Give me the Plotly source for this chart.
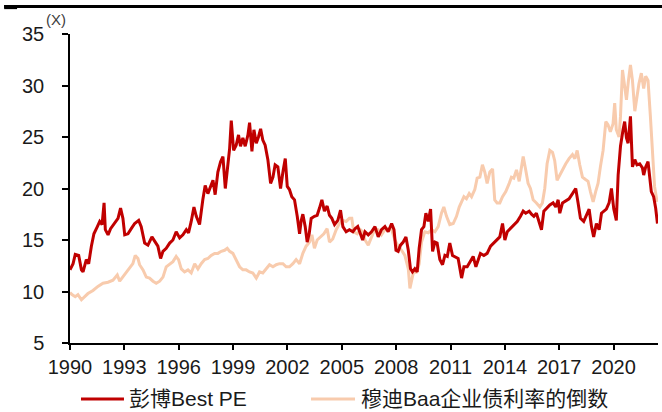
import plotly.graph_objects as go

# Bloomberg Best PE (forward P/E), decimal years
pe_years = [
    1990.00, 1990.17, 1990.29, 1990.48, 1990.63, 1990.72, 1990.90, 1991.03, 1991.18, 1991.32,
    1991.51, 1991.64, 1991.77, 1991.88, 1991.95, 1992.10, 1992.24, 1992.46, 1992.65, 1992.79,
    1992.92, 1993.02, 1993.20, 1993.38, 1993.57, 1993.79, 1993.93, 1994.12, 1994.30, 1994.52,
    1994.71, 1994.85, 1995.00, 1995.13, 1995.31, 1995.50, 1995.68, 1995.86, 1996.05, 1996.23,
    1996.42, 1996.54, 1996.69, 1996.84, 1996.97, 1997.15, 1997.33, 1997.46, 1997.61, 1997.76,
    1997.89, 1998.01, 1998.16, 1998.31, 1998.44, 1998.57, 1998.68, 1998.81, 1998.90, 1999.03,
    1999.17, 1999.30, 1999.41, 1999.54, 1999.67, 1999.82, 1999.91, 2000.04, 2000.15, 2000.28,
    2000.40, 2000.52, 2000.64, 2000.77, 2000.92, 2001.07, 2001.20, 2001.32, 2001.47, 2001.62,
    2001.75, 2001.88, 2001.99, 2002.11, 2002.24, 2002.39, 2002.54, 2002.67, 2002.76, 2002.85,
    2002.98, 2003.09, 2003.20, 2003.31, 2003.49, 2003.64, 2003.77, 2003.90, 2004.04, 2004.19,
    2004.32, 2004.45, 2004.60, 2004.78, 2004.93, 2005.06, 2005.24, 2005.42, 2005.61, 2005.74,
    2005.88, 2006.03, 2006.15, 2006.28, 2006.46, 2006.64, 2006.83, 2007.01, 2007.19, 2007.38,
    2007.56, 2007.75, 2007.88, 2007.99, 2008.11, 2008.24, 2008.39, 2008.54, 2008.67, 2008.79,
    2008.90, 2009.03, 2009.16, 2009.27, 2009.40, 2009.53, 2009.64, 2009.77, 2009.90, 2010.01,
    2010.14, 2010.26, 2010.41, 2010.56, 2010.69, 2010.82, 2010.96, 2011.11, 2011.24, 2011.42,
    2011.61, 2011.74, 2011.92, 2012.10, 2012.25, 2012.40, 2012.53, 2012.65, 2012.84, 2013.02,
    2013.21, 2013.39, 2013.57, 2013.72, 2013.87, 2014.00, 2014.13, 2014.31, 2014.49, 2014.68,
    2014.86, 2015.01, 2015.15, 2015.34, 2015.47, 2015.60, 2015.74, 2015.89, 2016.02, 2016.15,
    2016.29, 2016.48, 2016.66, 2016.81, 2016.94, 2017.03, 2017.18, 2017.36, 2017.54, 2017.73,
    2017.91, 2018.04, 2018.17, 2018.35, 2018.54, 2018.65, 2018.78, 2018.90, 2019.05, 2019.20,
    2019.33, 2019.46, 2019.60, 2019.75, 2019.88, 2020.01, 2020.15, 2020.25, 2020.38, 2020.52,
    2020.61, 2020.71, 2020.80, 2020.93, 2021.04, 2021.17, 2021.29, 2021.44, 2021.59, 2021.66,
    2021.77, 2021.90, 2021.99, 2022.08, 2022.21, 2022.32, 2022.42,
]
pe_values = [
    12.1, 12.7, 13.6, 13.5, 12.1, 11.9, 13.1, 12.7, 14.4, 15.6,
    16.3, 16.8, 16.5, 18.6, 16.0, 15.5, 16.1, 16.6, 17.1, 18.1,
    17.1, 15.5, 15.6, 16.1, 16.6, 16.9, 16.3, 14.7, 14.5, 15.3,
    14.7, 14.4, 13.2, 13.9, 14.2, 14.7, 15.0, 15.8, 15.2, 15.5,
    16.0, 15.7, 16.8, 18.2, 17.3, 16.5, 18.9, 20.3, 19.5, 20.2,
    20.8, 19.4, 21.6, 22.6, 23.1, 20.0, 22.1, 23.9, 26.6, 23.7,
    24.2, 25.2, 24.1, 24.9, 24.1, 25.2, 26.4, 23.6, 25.7, 24.4,
    25.0, 25.8, 24.7, 24.2, 22.8, 20.5, 21.1, 22.3, 22.1, 20.0,
    21.6, 22.9, 20.2, 19.9, 19.2, 18.9, 17.3, 15.6, 16.9, 17.5,
    16.3, 14.8, 15.6, 17.1, 17.3, 17.4, 18.1, 18.9, 17.8, 18.3,
    17.4, 17.1, 16.5, 16.9, 17.9, 16.3, 15.8, 16.0, 15.8, 16.1,
    16.3, 15.6, 15.0, 15.8, 15.5, 15.8, 16.3, 15.3, 16.0, 16.3,
    15.8, 16.6, 16.0, 14.0, 13.9, 14.5, 14.8, 15.3, 14.0, 12.2,
    11.9, 12.2, 11.9, 14.2, 16.0, 16.3, 17.6, 16.8, 18.0, 13.9,
    14.8, 14.7, 13.1, 12.6, 13.5, 13.4, 14.7, 13.5, 13.4, 13.2,
    11.3, 12.4, 12.4, 12.9, 13.4, 12.4, 13.2, 13.7, 13.5, 13.7,
    14.4, 14.7, 15.0, 15.3, 16.6, 15.0, 15.8, 16.1, 16.5, 16.8,
    17.3, 17.8, 17.6, 17.8, 17.5, 17.3, 17.6, 16.8, 16.0, 17.8,
    18.1, 18.4, 18.6, 18.2, 18.9, 17.6, 18.6, 18.8, 19.0, 19.5,
    20.0, 18.6, 17.1, 16.8, 17.6, 18.0, 16.3, 15.3, 16.6, 16.0,
    17.6, 17.8, 18.0, 18.6, 20.0, 18.0, 16.9, 21.3, 24.1, 25.7,
    26.5, 24.9, 24.4, 27.0, 22.1, 22.8, 22.3, 22.4, 22.0, 21.3,
    22.1, 22.6, 21.1, 19.7, 19.2, 18.1, 16.6,
]

# Inverse of Moody's Baa corporate bond yield, decimal years
baa_years = [
    1990.00, 1990.11, 1990.29, 1990.44, 1990.63, 1990.81, 1990.99, 1991.27, 1991.54, 1991.82,
    1992.10, 1992.37, 1992.61, 1992.74, 1992.92, 1993.11, 1993.29, 1993.47, 1993.60, 1993.75,
    1993.84, 1994.03, 1994.21, 1994.39, 1994.58, 1994.76, 1994.95, 1995.13, 1995.31, 1995.50,
    1995.68, 1995.86, 1995.99, 1996.14, 1996.32, 1996.51, 1996.69, 1996.88, 1997.06, 1997.24,
    1997.43, 1997.61, 1997.79, 1997.98, 1998.16, 1998.35, 1998.53, 1998.68, 1998.81, 1998.99,
    1999.17, 1999.36, 1999.54, 1999.72, 1999.91, 2000.09, 2000.28, 2000.46, 2000.64, 2000.83,
    2001.01, 2001.20, 2001.38, 2001.56, 2001.75, 2001.93, 2002.11, 2002.30, 2002.48, 2002.67,
    2002.85, 2003.03, 2003.22, 2003.35, 2003.49, 2003.64, 2003.82, 2004.01, 2004.19, 2004.32,
    2004.50, 2004.69, 2004.87, 2005.06, 2005.24, 2005.42, 2005.55, 2005.66, 2005.85, 2006.03,
    2006.15, 2006.28, 2006.46, 2006.64, 2006.83, 2007.01, 2007.19, 2007.38, 2007.56, 2007.75,
    2007.93, 2008.11, 2008.30, 2008.48, 2008.67, 2008.76, 2008.85, 2008.98, 2009.13, 2009.27,
    2009.40, 2009.58, 2009.77, 2009.95, 2010.14, 2010.32, 2010.50, 2010.63, 2010.78, 2010.96,
    2011.15, 2011.33, 2011.48, 2011.61, 2011.74, 2011.88, 2012.03, 2012.16, 2012.34, 2012.47,
    2012.62, 2012.76, 2012.89, 2013.02, 2013.17, 2013.32, 2013.44, 2013.57, 2013.72, 2013.87,
    2014.05, 2014.24, 2014.36, 2014.49, 2014.64, 2014.79, 2014.92, 2015.01, 2015.15, 2015.28,
    2015.41, 2015.56, 2015.74, 2015.93, 2016.07, 2016.20, 2016.33, 2016.48, 2016.63, 2016.75,
    2016.88, 2017.03, 2017.18, 2017.36, 2017.54, 2017.73, 2017.86, 2017.99, 2018.13, 2018.28,
    2018.43, 2018.59, 2018.72, 2018.87, 2019.01, 2019.14, 2019.27, 2019.42, 2019.57, 2019.69,
    2019.82, 2019.97, 2020.06, 2020.15, 2020.30, 2020.38, 2020.49, 2020.61, 2020.71, 2020.82,
    2020.93, 2021.04, 2021.17, 2021.29, 2021.40, 2021.53, 2021.66, 2021.77, 2021.90, 2022.03,
    2022.14, 2022.26, 2022.40,
]
baa_values = [
    9.9, 9.7, 9.5, 9.7, 9.2, 9.5, 9.8, 10.1, 10.5, 10.8,
    10.9, 11.1, 11.6, 11.0, 11.4, 11.8, 12.2, 12.7, 13.5, 13.2,
    12.6, 12.1, 11.4, 11.3, 11.0, 10.8, 11.0, 11.4, 12.4, 12.7,
    12.9, 13.4, 13.1, 12.2, 11.9, 12.1, 11.8, 12.7, 12.2, 12.7,
    13.1, 13.2, 13.5, 13.7, 13.7, 13.9, 14.0, 14.2, 13.9, 13.7,
    13.1, 12.4, 12.1, 12.1, 11.9, 11.8, 11.3, 11.9, 11.8, 12.2,
    12.6, 12.4, 12.6, 12.7, 12.7, 12.4, 12.4, 12.7, 13.1, 12.7,
    13.7, 14.4, 14.8, 15.5, 14.2, 15.0, 15.3, 15.6, 16.1, 14.8,
    15.1, 16.0, 16.6, 16.9, 16.8, 17.1, 17.1, 15.8, 15.6, 16.0,
    15.8, 15.0, 14.5, 15.3, 16.1, 16.0, 15.5, 16.0, 16.1, 16.0,
    15.0, 14.4, 14.0, 13.5, 12.2, 10.3, 11.1, 12.1, 11.8, 12.7,
    14.8, 15.8, 15.7, 16.0, 15.8, 16.3, 17.6, 18.2, 17.3, 16.5,
    16.6, 17.3, 18.2, 18.7, 19.2, 19.0, 19.5, 19.2, 19.9, 21.0,
    21.1, 22.3, 21.6, 20.5, 21.6, 21.9, 18.9, 18.6, 18.6, 19.2,
    19.7, 20.5, 21.1, 21.0, 21.8, 20.7, 22.1, 23.1, 21.8, 20.5,
    20.0, 18.9, 18.6, 18.2, 18.6, 20.0, 22.4, 23.7, 23.5, 22.7,
    20.8, 21.3, 21.9, 22.4, 22.9, 23.3, 22.9, 23.7, 22.3, 21.1,
    20.9, 20.7, 19.7, 18.7, 19.7, 20.5, 22.1, 23.7, 26.5, 26.2,
    25.5, 26.3, 28.3, 25.7, 25.0, 27.0, 31.5, 29.9, 28.6, 30.5,
    32.0, 30.5, 27.5, 28.9, 30.2, 31.2, 29.7, 30.9, 30.5, 27.0,
    23.7, 20.2, 18.7,
]

tick_years = [1990, 1993, 1996, 1999, 2002, 2005, 2008, 2011, 2014, 2017, 2020]
tick_text = [str(y) for y in tick_years]

PE_NAME = "彭博Best PE"
BAA_NAME = "穆迪Baa企业债利率的倒数"
PE_COLOR = "#C00000"
BAA_COLOR = "#F8CBAD"
FONT = "Liberation Sans, Arial, Noto Sans CJK SC, sans-serif"
TEXT_COLOR = "#1a1a1a"

fig = go.Figure()
fig.add_trace(go.Scatter(
    x=baa_years, y=baa_values, mode="lines", name=BAA_NAME,
    line=dict(color=BAA_COLOR, width=3), showlegend=False,
))
fig.add_trace(go.Scatter(
    x=pe_years, y=pe_values, mode="lines", name=PE_NAME,
    line=dict(color=PE_COLOR, width=3), showlegend=False,
))

# Key below the axis: a short line sample followed by the series name
LEGEND_Y = -0.181
key_items = [
    (PE_NAME, PE_COLOR, 0.0187, 0.0918, 0.0969),
    (BAA_NAME, BAA_COLOR, 0.4099, 0.4847, 0.4915),
]
key_shapes = []
key_annotations = []
for name, color, x0, x1, xt in key_items:
    key_shapes.append(dict(
        type="line", xref="paper", yref="paper",
        x0=x0, x1=x1, y0=LEGEND_Y, y1=LEGEND_Y,
        line=dict(color=color, width=3),
    ))
    key_annotations.append(dict(
        text=name, xref="paper", yref="paper",
        x=xt, y=LEGEND_Y, xanchor="left", yanchor="middle",
        showarrow=False, font=dict(size=21, color=TEXT_COLOR, family=FONT),
    ))

fig.update_layout(
    width=662, height=412,
    margin=dict(l=70, r=4, t=34, b=69, autoexpand=False),
    paper_bgcolor="white", plot_bgcolor="white",
    font=dict(family=FONT, color=TEXT_COLOR, size=20),
    showlegend=False,
    hovermode=False,
    xaxis=dict(
        range=[1990, 2022.45],
        tickmode="array", tickvals=tick_years, ticktext=tick_text,
        ticks="outside", ticklen=5, tickwidth=1.5, tickcolor="black",
        showline=True, linecolor="black", linewidth=1.5,
        showgrid=False, zeroline=False,
        tickfont=dict(size=20),
    ),
    yaxis=dict(
        range=[5, 35], tick0=5, dtick=5,
        ticks="outside", ticklen=6, tickwidth=1.5, tickcolor="black",
        showline=True, linecolor="black", linewidth=1.5,
        showgrid=False, zeroline=False,
        tickfont=dict(size=20),
        ticklabelstandoff=14,
    ),
    annotations=[dict(
        text="(X)", xref="paper", yref="paper",
        x=-0.024, y=1.048, xanchor="center", yanchor="middle",
        showarrow=False, font=dict(size=15, color="#404040", family=FONT),
    )] + key_annotations,
    shapes=[
        dict(type="rect", xref="paper", yref="paper",
             x0=-0.112, x1=1.007, y0=1.0841, y1=1.0939,
             fillcolor="black", line=dict(width=0)),
        dict(type="rect", xref="paper", yref="paper",
             x0=-0.112, x1=-0.090, y0=1.0805, y1=1.0939,
             fillcolor="black", line=dict(width=0)),
    ] + key_shapes,
)

fig.write_html("out.html")
